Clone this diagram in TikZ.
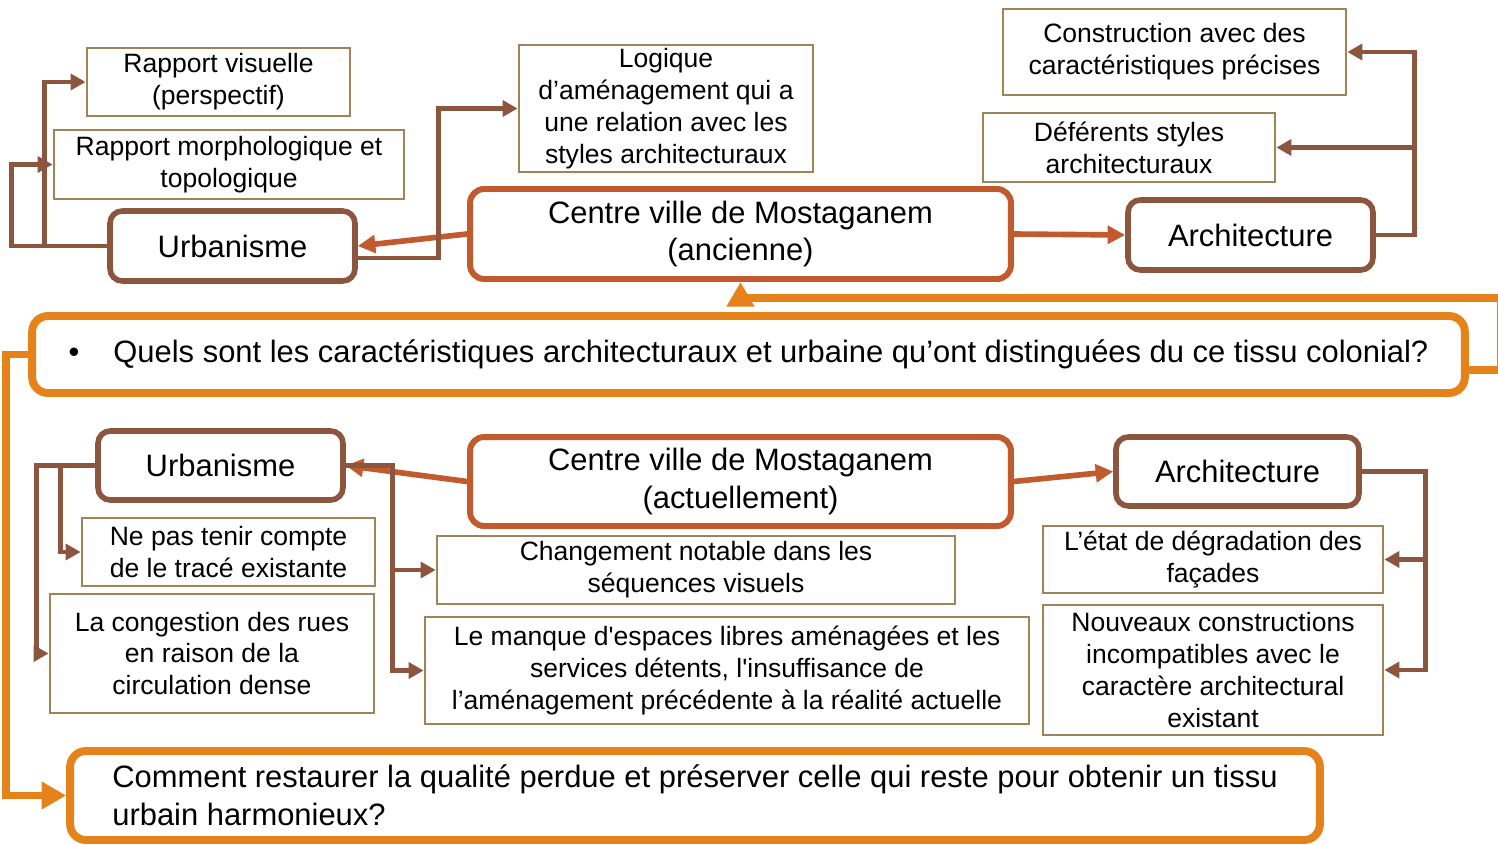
\documentclass[tikz,border=0pt]{standalone}
\usepackage{fontspec}
\setmainfont{Liberation Sans}
\usetikzlibrary{arrows.meta, positioning}
\definecolor{brun}{RGB}{140,86,62}
\definecolor{sable}{RGB}{158,132,88}
\definecolor{rouille}{RGB}{193,90,45}
\definecolor{qorange}{RGB}{229,130,25}
\newcommand{\grand}{\fontsize{17.6pt}{21.5pt}\selectfont}
\newcommand{\petit}{\fontsize{15.1pt}{18.1pt}\selectfont}
\tikzset{box-t/.style = {draw=sable, line width=1.6pt, rectangle, align=center, font=\petit, inner sep=2pt}}
\tikzset{box-b/.style = {draw=brun, line width=3.2pt, rounded corners=7pt, rectangle, align=center, font=\grand}}
\tikzset{box-c/.style = {draw=rouille, line width=3.4pt, rounded corners=8pt, rectangle, align=center, font=\grand}}
\tikzset{box-q/.style = {draw=qorange, line width=4.5pt, rounded corners=9pt, rectangle, font=\grand}}
\tikzset{link-b/.style = {draw=brun, line width=2.8pt, -{Triangle[length=8.5pt, width=9pt]}}}
\tikzset{link-c/.style = {draw=rouille, line width=3.2pt, -{Triangle[length=10pt, width=10pt]}}}
\tikzset{link-q/.style = {draw=qorange, line width=4.5pt, -{Triangle[length=14pt, width=15pt]}}}

\begin{document}
\begin{tikzpicture}[x=0.02cm, y=-0.02cm]
  \useasboundingbox (0,0) rectangle (1498,845);
  % centre ancien
  \path (218.5,82) node[box-t, minimum width=5.26cm, minimum height=1.36cm] (rv) {Rapport visuelle\\(perspectif)}
        (229,164.5) node[box-t, minimum width=7cm, minimum height=1.38cm] (rm) {Rapport morphologique et\\topologique}
        (232.5,246) node[box-b, minimum width=4.9cm, minimum height=1.4cm] (urb1) {Urbanisme}
        (666,108.5) node[box-t, minimum width=5.88cm, minimum height=2.54cm] (logique) {Logique\\d’aménagement qui a\\une relation avec les\\styles architecturaux}
        (740.5,234) node[box-c, minimum width=10.82cm, minimum height=1.8cm] (ca) {Centre ville de Mostaganem\\(ancienne)}
        (1174.5,52) node[box-t, minimum width=6.86cm, minimum height=1.72cm] (cons) {Construction avec des\\caractéristiques précises}
        (1129,147.5) node[box-t, minimum width=5.84cm, minimum height=1.38cm] (styl) {Déférents styles\\architecturaux}
        (1250.5,235) node[box-b, minimum width=4.9cm, minimum height=1.4cm] (arch1) {Architecture};
  % questions
  \path (748.5,354.5) node[box-q, minimum width=28.66cm, minimum height=1.54cm] (Q1) {\textbullet\hspace{0.68cm}Quels sont les caractéristiques architecturaux et urbaine qu’ont distinguées du ce tissu colonial?}
        (695,795.5) node[box-q, minimum width=25cm, minimum height=1.78cm, align=left] (Q2) {Comment restaurer la qualité perdue et préserver celle qui reste pour obtenir un tissu\\urbain harmonieux?};
  % centre actuel
  \path (220.5,465.5) node[box-b, minimum width=4.9cm, minimum height=1.38cm] (urb2) {Urbanisme}
        (740.5,481.5) node[box-c, minimum width=10.82cm, minimum height=1.78cm] (cn) {Centre ville de Mostaganem\\(actuellement)}
        (1237.5,471.5) node[box-b, minimum width=4.86cm, minimum height=1.38cm] (arch2) {Architecture}
        (228.5,552) node[box-t, minimum width=5.86cm, minimum height=1.36cm] (ne) {Ne pas tenir compte\\de le tracé existante}
        (212,653.5) node[box-t, minimum width=6.48cm, minimum height=2.38cm] (lc) {La congestion des rues\\en raison de la\\circulation dense}
        (696,570) node[box-t, minimum width=10.36cm, minimum height=1.36cm] (chg) {Changement notable dans les\\séquences visuels}
        (727,670.5) node[box-t, minimum width=12.08cm, minimum height=2.14cm] (lm) {Le manque d\textquotesingle espaces libres aménagées et les\\services détents, l\textquotesingle insuffisance de\\l’aménagement précédente à la réalité actuelle}
        (1213,559.5) node[box-t, minimum width=6.8cm, minimum height=1.34cm] (etat) {L’état de dégradation des\\façades}
        (1213,670) node[box-t, minimum width=6.8cm, minimum height=2.6cm] (nouv) {Nouveaux constructions\\incompatibles avec le\\caractère architectural\\existant};

  \foreach \i/\o in {ca.west/urb1.east, ca.east/arch1.west, cn.west/urb2.east, cn.east/arch2.west}
  {
    \draw[link-c] (\i) -- (\o);
  }
  \foreach \i/\d/\o in
  {urb1.west/-63/rv.west, urb1.west/-96/rm.west, arch1.east/39/cons.east, arch1.east/39/styl.east,
   urb2.east/47/chg.west, urb2.east/47/lm.west, urb2.west/-35/ne.west, urb2.west/-59/lc.west,
   arch2.east/64/etat.east, arch2.east/64/nouv.east}
  {
    \draw[link-b] (\i) -- ++(\d,0) |- (\o);
  }
  \draw[link-b] ([yshift=-0.24cm]urb1.east) -- ++(81,0) |- (logique.west);
  \draw[link-q] ([yshift=-0.31cm]Q1.east) -- ++(32,0) -- ++(0,-72) -| (ca.south);
  \draw[link-q] (Q1.west) -- ++(-22,0) |- (Q2.west);
\end{tikzpicture}
\end{document}
